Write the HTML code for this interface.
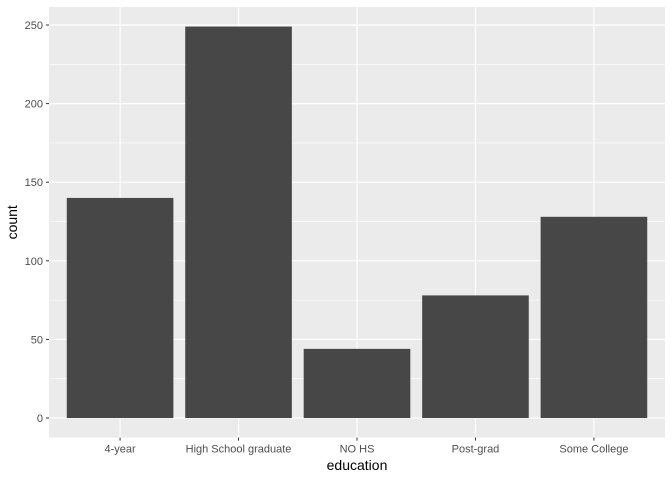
<!DOCTYPE html>
<html><head><meta charset="utf-8"><style>
body{margin:0;background:#fff;font-family:"Liberation Sans",sans-serif}
</style></head><body>
<svg id="chart" width="672" height="480" xmlns="http://www.w3.org/2000/svg"></svg>
<script>
const categories=["4-year","High School graduate","NO HS","Post-grad","Some College"];
const counts=[140,249,44,78,128];
const yTicks=[0,50,100,150,200,250];
const NS="http://www.w3.org/2000/svg";
const svg=document.getElementById('chart');
const L=49,R=665,T=7,B=437.6;
const ymax=Math.max(...counts);
const ylo=-ymax*0.05, yhi=ymax*1.05;
const y=v=>B-(v-ylo)/(yhi-ylo)*(B-T);
const n=categories.length;
const x=i=>L+(i+1-0.4)/(n+0.2)*(R-L);
const bw=0.9*(R-L)/(n+0.2);
function el(tag,attrs,parent){const e=document.createElementNS(NS,tag);for(const k in attrs)e.setAttribute(k,attrs[k]);(parent||svg).appendChild(e);return e;}
const bg=el('rect',{x:L,y:T,width:R-L,height:B-T,fill:'#ebebeb'});


for(let i=0;i<yTicks.length-1;i++){
  const m=(yTicks[i]+yTicks[i+1])/2;
  const g=el('line',{x1:L,x2:R,y1:y(m),y2:y(m),stroke:'#fff','stroke-width':0.6});
  
  
}
yTicks.forEach(t=>{
  const g=el('line',{x1:L,x2:R,y1:y(t),y2:y(t),stroke:'#fff','stroke-width':1.2});
  
  
  el('line',{x1:L-3,x2:L,y1:y(t),y2:y(t),stroke:'#333','stroke-width':1});
  const tx=el('text',{x:L-6,y:y(t)+4,'text-anchor':'end','font-size':11,fill:'#4d4d4d'});
  tx.textContent=t;
  
  
});
categories.forEach((c,i)=>{
  const g=el('line',{x1:x(i),x2:x(i),y1:T,y2:B,stroke:'#fff','stroke-width':1.2});
  
  
});
categories.forEach((c,i)=>{
  const b=el('rect',{x:x(i)-bw/2,y:y(counts[i]),width:bw,height:y(0)-y(counts[i]),fill:'#474747'});
  
  
  el('line',{x1:x(i),x2:x(i),y1:B,y2:B+3,stroke:'#333','stroke-width':1});
  const tx=el('text',{x:x(i),y:B+15,'text-anchor':'middle','font-size':11,fill:'#4d4d4d'});
  tx.textContent=c;
  
  
});
const xt=el('text',{x:(L+R)/2,y:470,'text-anchor':'middle','font-size':14,fill:'#000'});
xt.textContent='education';


const yt=el('text',{x:0,y:0,transform:`translate(17,${(T+B)/2}) rotate(-90)`,'text-anchor':'middle','font-size':14,fill:'#000'});
yt.textContent='count';


</script>
</body></html>
